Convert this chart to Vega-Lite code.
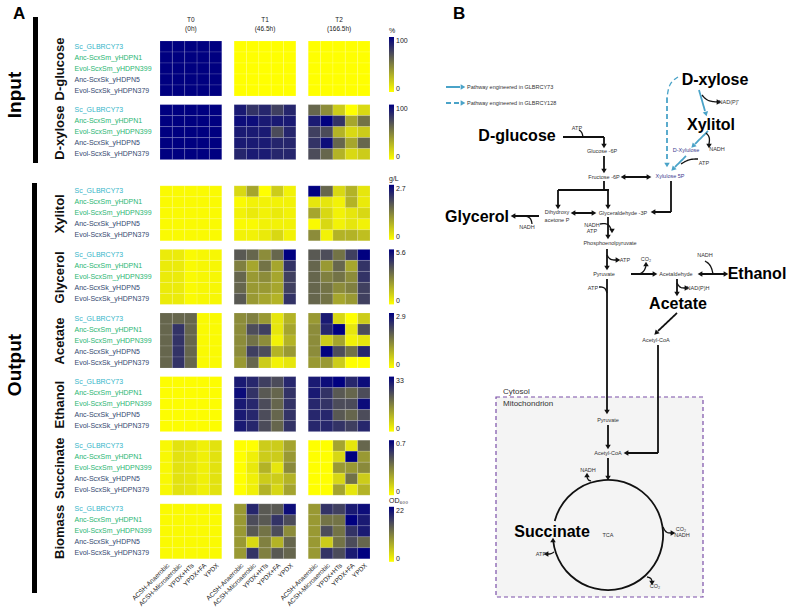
{
"$schema":"https://vega.github.io/schema/vega-lite/v6.json",
"padding":{"left":5,"top":5,"right":0,"bottom":0},
"config":{"font":"Liberation Sans","view":{"stroke":null},
"axisY":{"labelAlign":"left","labelPadding":86,"labelFontSize":7,"ticks":false,"tickSize":0,"domain":false,"titleFontSize":13,"titleFontWeight":"bold","titlePadding":8,"titleColor":"#111"},
"legend":{"gradientLength":55,"gradientThickness":5,"labelFontSize":7,"titleFontSize":7,"titleFontWeight":"normal","titlePadding":3,"labelOffset":2,"labelColor":"#222","titleColor":"#222"}},
"datasets":{
"strains":[{"s":0,"strain":"Sc_GLBRCY73"},{"s":1,"strain":"Anc-ScxSm_yHDPN1"},{"s":2,"strain":"Evol-ScxSm_yHDPN399"},{"s":3,"strain":"Anc-ScxSk_yHDPN5"},{"s":4,"strain":"Evol-ScxSk_yHDPN379"}],
"conds":[{"c":0,"cond":"ACSH-Anaerobic"},{"c":1,"cond":"ACSH-Microaerobic"},{"c":2,"cond":"YPDX+HTs"},{"c":3,"cond":"YPDX+FA"},{"c":4,"cond":"YPDX"}],
"hdr":[{"col":"T0|YPDX+HTs","t":"T0","h":"(0h)"},{"col":"T1|YPDX+HTs","t":"T1","h":"(46.5h)"},{"col":"T2|YPDX+HTs","t":"T2","h":"(166.5h)"}],
"glucose":[
{"t":"T0","s":0,"c":0,"v":100},{"t":"T0","s":0,"c":1,"v":100},{"t":"T0","s":0,"c":2,"v":100},{"t":"T0","s":0,"c":3,"v":100},{"t":"T0","s":0,"c":4,"v":100},
{"t":"T0","s":1,"c":0,"v":100},{"t":"T0","s":1,"c":1,"v":100},{"t":"T0","s":1,"c":2,"v":100},{"t":"T0","s":1,"c":3,"v":100},{"t":"T0","s":1,"c":4,"v":100},
{"t":"T0","s":2,"c":0,"v":100},{"t":"T0","s":2,"c":1,"v":100},{"t":"T0","s":2,"c":2,"v":100},{"t":"T0","s":2,"c":3,"v":100},{"t":"T0","s":2,"c":4,"v":100},
{"t":"T0","s":3,"c":0,"v":100},{"t":"T0","s":3,"c":1,"v":100},{"t":"T0","s":3,"c":2,"v":100},{"t":"T0","s":3,"c":3,"v":100},{"t":"T0","s":3,"c":4,"v":100},
{"t":"T0","s":4,"c":0,"v":100},{"t":"T0","s":4,"c":1,"v":100},{"t":"T0","s":4,"c":2,"v":100},{"t":"T0","s":4,"c":3,"v":100},{"t":"T0","s":4,"c":4,"v":100},
{"t":"T1","s":0,"c":0,"v":0},{"t":"T1","s":0,"c":1,"v":0},{"t":"T1","s":0,"c":2,"v":0},{"t":"T1","s":0,"c":3,"v":0},{"t":"T1","s":0,"c":4,"v":0},
{"t":"T1","s":1,"c":0,"v":0},{"t":"T1","s":1,"c":1,"v":0},{"t":"T1","s":1,"c":2,"v":0},{"t":"T1","s":1,"c":3,"v":0},{"t":"T1","s":1,"c":4,"v":0},
{"t":"T1","s":2,"c":0,"v":0},{"t":"T1","s":2,"c":1,"v":0},{"t":"T1","s":2,"c":2,"v":0},{"t":"T1","s":2,"c":3,"v":0},{"t":"T1","s":2,"c":4,"v":0},
{"t":"T1","s":3,"c":0,"v":0},{"t":"T1","s":3,"c":1,"v":0},{"t":"T1","s":3,"c":2,"v":0},{"t":"T1","s":3,"c":3,"v":0},{"t":"T1","s":3,"c":4,"v":0},
{"t":"T1","s":4,"c":0,"v":0},{"t":"T1","s":4,"c":1,"v":0},{"t":"T1","s":4,"c":2,"v":0},{"t":"T1","s":4,"c":3,"v":0},{"t":"T1","s":4,"c":4,"v":0},
{"t":"T2","s":0,"c":0,"v":0},{"t":"T2","s":0,"c":1,"v":0},{"t":"T2","s":0,"c":2,"v":0},{"t":"T2","s":0,"c":3,"v":0},{"t":"T2","s":0,"c":4,"v":0},
{"t":"T2","s":1,"c":0,"v":0},{"t":"T2","s":1,"c":1,"v":0},{"t":"T2","s":1,"c":2,"v":0},{"t":"T2","s":1,"c":3,"v":0},{"t":"T2","s":1,"c":4,"v":0},
{"t":"T2","s":2,"c":0,"v":0},{"t":"T2","s":2,"c":1,"v":0},{"t":"T2","s":2,"c":2,"v":0},{"t":"T2","s":2,"c":3,"v":0},{"t":"T2","s":2,"c":4,"v":0},
{"t":"T2","s":3,"c":0,"v":0},{"t":"T2","s":3,"c":1,"v":0},{"t":"T2","s":3,"c":2,"v":0},{"t":"T2","s":3,"c":3,"v":0},{"t":"T2","s":3,"c":4,"v":0},
{"t":"T2","s":4,"c":0,"v":0},{"t":"T2","s":4,"c":1,"v":0},{"t":"T2","s":4,"c":2,"v":0},{"t":"T2","s":4,"c":3,"v":0},{"t":"T2","s":4,"c":4,"v":0}],
"xylose":[
{"t":"T0","s":0,"c":0,"v":100},{"t":"T0","s":0,"c":1,"v":100},{"t":"T0","s":0,"c":2,"v":100},{"t":"T0","s":0,"c":3,"v":100},{"t":"T0","s":0,"c":4,"v":100},
{"t":"T0","s":1,"c":0,"v":100},{"t":"T0","s":1,"c":1,"v":100},{"t":"T0","s":1,"c":2,"v":100},{"t":"T0","s":1,"c":3,"v":100},{"t":"T0","s":1,"c":4,"v":100},
{"t":"T0","s":2,"c":0,"v":100},{"t":"T0","s":2,"c":1,"v":100},{"t":"T0","s":2,"c":2,"v":100},{"t":"T0","s":2,"c":3,"v":100},{"t":"T0","s":2,"c":4,"v":100},
{"t":"T0","s":3,"c":0,"v":100},{"t":"T0","s":3,"c":1,"v":100},{"t":"T0","s":3,"c":2,"v":100},{"t":"T0","s":3,"c":3,"v":100},{"t":"T0","s":3,"c":4,"v":100},
{"t":"T0","s":4,"c":0,"v":100},{"t":"T0","s":4,"c":1,"v":100},{"t":"T0","s":4,"c":2,"v":100},{"t":"T0","s":4,"c":3,"v":100},{"t":"T0","s":4,"c":4,"v":100},
{"t":"T1","s":0,"c":0,"v":90},{"t":"T1","s":0,"c":1,"v":80},{"t":"T1","s":0,"c":2,"v":85},{"t":"T1","s":0,"c":3,"v":75},{"t":"T1","s":0,"c":4,"v":85},
{"t":"T1","s":1,"c":0,"v":95},{"t":"T1","s":1,"c":1,"v":95},{"t":"T1","s":1,"c":2,"v":90},{"t":"T1","s":1,"c":3,"v":90},{"t":"T1","s":1,"c":4,"v":90},
{"t":"T1","s":2,"c":0,"v":90},{"t":"T1","s":2,"c":1,"v":90},{"t":"T1","s":2,"c":2,"v":90},{"t":"T1","s":2,"c":3,"v":70},{"t":"T1","s":2,"c":4,"v":85},
{"t":"T1","s":3,"c":0,"v":90},{"t":"T1","s":3,"c":1,"v":90},{"t":"T1","s":3,"c":2,"v":90},{"t":"T1","s":3,"c":3,"v":85},{"t":"T1","s":3,"c":4,"v":85},
{"t":"T1","s":4,"c":0,"v":85},{"t":"T1","s":4,"c":1,"v":90},{"t":"T1","s":4,"c":2,"v":90},{"t":"T1","s":4,"c":3,"v":85},{"t":"T1","s":4,"c":4,"v":85},
{"t":"T2","s":0,"c":0,"v":60},{"t":"T2","s":0,"c":1,"v":45},{"t":"T2","s":0,"c":2,"v":20},{"t":"T2","s":0,"c":3,"v":0},{"t":"T2","s":0,"c":4,"v":15},
{"t":"T2","s":1,"c":0,"v":90},{"t":"T2","s":1,"c":1,"v":100},{"t":"T2","s":1,"c":2,"v":80},{"t":"T2","s":1,"c":3,"v":35},{"t":"T2","s":1,"c":4,"v":55},
{"t":"T2","s":2,"c":0,"v":75},{"t":"T2","s":2,"c":1,"v":70},{"t":"T2","s":2,"c":2,"v":30},{"t":"T2","s":2,"c":3,"v":15},{"t":"T2","s":2,"c":4,"v":20},
{"t":"T2","s":3,"c":0,"v":80},{"t":"T2","s":3,"c":1,"v":95},{"t":"T2","s":3,"c":2,"v":60},{"t":"T2","s":3,"c":3,"v":35},{"t":"T2","s":3,"c":4,"v":60},
{"t":"T2","s":4,"c":0,"v":70},{"t":"T2","s":4,"c":1,"v":60},{"t":"T2","s":4,"c":2,"v":30},{"t":"T2","s":4,"c":3,"v":15},{"t":"T2","s":4,"c":4,"v":20}],
"xylitol":[
{"t":"T0","s":0,"c":0,"v":0.05},{"t":"T0","s":0,"c":1,"v":0.05},{"t":"T0","s":0,"c":2,"v":0.05},{"t":"T0","s":0,"c":3,"v":0.05},{"t":"T0","s":0,"c":4,"v":0.05},
{"t":"T0","s":1,"c":0,"v":0.05},{"t":"T0","s":1,"c":1,"v":0.05},{"t":"T0","s":1,"c":2,"v":0.05},{"t":"T0","s":1,"c":3,"v":0.05},{"t":"T0","s":1,"c":4,"v":0.05},
{"t":"T0","s":2,"c":0,"v":0.05},{"t":"T0","s":2,"c":1,"v":0.05},{"t":"T0","s":2,"c":2,"v":0.05},{"t":"T0","s":2,"c":3,"v":0.05},{"t":"T0","s":2,"c":4,"v":0.05},
{"t":"T0","s":3,"c":0,"v":0.05},{"t":"T0","s":3,"c":1,"v":0.05},{"t":"T0","s":3,"c":2,"v":0.05},{"t":"T0","s":3,"c":3,"v":0.05},{"t":"T0","s":3,"c":4,"v":0.05},
{"t":"T0","s":4,"c":0,"v":0.05},{"t":"T0","s":4,"c":1,"v":0.05},{"t":"T0","s":4,"c":2,"v":0.05},{"t":"T0","s":4,"c":3,"v":0.05},{"t":"T0","s":4,"c":4,"v":0.05},
{"t":"T1","s":0,"c":0,"v":0.41},{"t":"T1","s":0,"c":1,"v":0.95},{"t":"T1","s":0,"c":2,"v":0},{"t":"T1","s":0,"c":3,"v":0.54},{"t":"T1","s":0,"c":4,"v":0.14},
{"t":"T1","s":1,"c":0,"v":0.05},{"t":"T1","s":1,"c":1,"v":0.14},{"t":"T1","s":1,"c":2,"v":0.14},{"t":"T1","s":1,"c":3,"v":0.14},{"t":"T1","s":1,"c":4,"v":0.14},
{"t":"T1","s":2,"c":0,"v":0.14},{"t":"T1","s":2,"c":1,"v":0.22},{"t":"T1","s":2,"c":2,"v":0.14},{"t":"T1","s":2,"c":3,"v":0.22},{"t":"T1","s":2,"c":4,"v":0.14},
{"t":"T1","s":3,"c":0,"v":0.05},{"t":"T1","s":3,"c":1,"v":0.05},{"t":"T1","s":3,"c":2,"v":0.14},{"t":"T1","s":3,"c":3,"v":0.14},{"t":"T1","s":3,"c":4,"v":0.14},
{"t":"T1","s":4,"c":0,"v":0.14},{"t":"T1","s":4,"c":1,"v":0.14},{"t":"T1","s":4,"c":2,"v":0.22},{"t":"T1","s":4,"c":3,"v":0.41},{"t":"T1","s":4,"c":4,"v":0.14},
{"t":"T2","s":0,"c":0,"v":2.7},{"t":"T2","s":0,"c":1,"v":1.62},{"t":"T2","s":0,"c":2,"v":0.41},{"t":"T2","s":0,"c":3,"v":0.81},{"t":"T2","s":0,"c":4,"v":0.27},
{"t":"T2","s":1,"c":0,"v":0.27},{"t":"T2","s":1,"c":1,"v":0.27},{"t":"T2","s":1,"c":2,"v":0.14},{"t":"T2","s":1,"c":3,"v":0.81},{"t":"T2","s":1,"c":4,"v":0.22},
{"t":"T2","s":2,"c":0,"v":0.95},{"t":"T2","s":2,"c":1,"v":0.41},{"t":"T2","s":2,"c":2,"v":0.14},{"t":"T2","s":2,"c":3,"v":0.27},{"t":"T2","s":2,"c":4,"v":0.41},
{"t":"T2","s":3,"c":0,"v":0.05},{"t":"T2","s":3,"c":1,"v":0.41},{"t":"T2","s":3,"c":2,"v":0.14},{"t":"T2","s":3,"c":3,"v":0.27},{"t":"T2","s":3,"c":4,"v":0.14},
{"t":"T2","s":4,"c":0,"v":1.22},{"t":"T2","s":4,"c":1,"v":0.14},{"t":"T2","s":4,"c":2,"v":0.81},{"t":"T2","s":4,"c":3,"v":0.81},{"t":"T2","s":4,"c":4,"v":0.68}],
"glycerol":[
{"t":"T0","s":0,"c":0,"v":0.45},{"t":"T0","s":0,"c":1,"v":0.45},{"t":"T0","s":0,"c":2,"v":0.11},{"t":"T0","s":0,"c":3,"v":0.17},{"t":"T0","s":0,"c":4,"v":0.17},
{"t":"T0","s":1,"c":0,"v":0.45},{"t":"T0","s":1,"c":1,"v":0.45},{"t":"T0","s":1,"c":2,"v":0.11},{"t":"T0","s":1,"c":3,"v":0.17},{"t":"T0","s":1,"c":4,"v":0.17},
{"t":"T0","s":2,"c":0,"v":0.45},{"t":"T0","s":2,"c":1,"v":0.45},{"t":"T0","s":2,"c":2,"v":0.11},{"t":"T0","s":2,"c":3,"v":0.17},{"t":"T0","s":2,"c":4,"v":0.17},
{"t":"T0","s":3,"c":0,"v":0.45},{"t":"T0","s":3,"c":1,"v":0.45},{"t":"T0","s":3,"c":2,"v":0.11},{"t":"T0","s":3,"c":3,"v":0.17},{"t":"T0","s":3,"c":4,"v":0.17},
{"t":"T0","s":4,"c":0,"v":0.45},{"t":"T0","s":4,"c":1,"v":0.45},{"t":"T0","s":4,"c":2,"v":0.11},{"t":"T0","s":4,"c":3,"v":0.17},{"t":"T0","s":4,"c":4,"v":0.17},
{"t":"T1","s":0,"c":0,"v":3.64},{"t":"T1","s":0,"c":1,"v":3.36},{"t":"T1","s":0,"c":2,"v":2.52},{"t":"T1","s":0,"c":3,"v":3.36},{"t":"T1","s":0,"c":4,"v":5.6},
{"t":"T1","s":1,"c":0,"v":2.8},{"t":"T1","s":1,"c":1,"v":1.96},{"t":"T1","s":1,"c":2,"v":3.08},{"t":"T1","s":1,"c":3,"v":1.96},{"t":"T1","s":1,"c":4,"v":4.48},
{"t":"T1","s":2,"c":0,"v":3.36},{"t":"T1","s":2,"c":1,"v":2.24},{"t":"T1","s":2,"c":2,"v":2.52},{"t":"T1","s":2,"c":3,"v":1.96},{"t":"T1","s":2,"c":4,"v":4.2},
{"t":"T1","s":3,"c":0,"v":3.36},{"t":"T1","s":3,"c":1,"v":2.24},{"t":"T1","s":3,"c":2,"v":2.24},{"t":"T1","s":3,"c":3,"v":1.96},{"t":"T1","s":3,"c":4,"v":4.2},
{"t":"T1","s":4,"c":0,"v":3.64},{"t":"T1","s":4,"c":1,"v":2.24},{"t":"T1","s":4,"c":2,"v":1.96},{"t":"T1","s":4,"c":3,"v":1.68},{"t":"T1","s":4,"c":4,"v":4.48},
{"t":"T2","s":0,"c":0,"v":3.64},{"t":"T2","s":0,"c":1,"v":3.92},{"t":"T2","s":0,"c":2,"v":3.08},{"t":"T2","s":0,"c":3,"v":4.2},{"t":"T2","s":0,"c":4,"v":5.6},
{"t":"T2","s":1,"c":0,"v":3.36},{"t":"T2","s":1,"c":1,"v":2.24},{"t":"T2","s":1,"c":2,"v":3.36},{"t":"T2","s":1,"c":3,"v":1.96},{"t":"T2","s":1,"c":4,"v":4.48},
{"t":"T2","s":2,"c":0,"v":3.36},{"t":"T2","s":2,"c":1,"v":2.8},{"t":"T2","s":2,"c":2,"v":3.08},{"t":"T2","s":2,"c":3,"v":2.52},{"t":"T2","s":2,"c":4,"v":4.48},
{"t":"T2","s":3,"c":0,"v":3.36},{"t":"T2","s":3,"c":1,"v":3.08},{"t":"T2","s":3,"c":2,"v":2.52},{"t":"T2","s":3,"c":3,"v":2.8},{"t":"T2","s":3,"c":4,"v":4.2},
{"t":"T2","s":4,"c":0,"v":3.36},{"t":"T2","s":4,"c":1,"v":3.08},{"t":"T2","s":4,"c":2,"v":1.96},{"t":"T2","s":4,"c":3,"v":2.24},{"t":"T2","s":4,"c":4,"v":4.2}],
"acetate":[
{"t":"T0","s":0,"c":0,"v":1.74},{"t":"T0","s":0,"c":1,"v":1.74},{"t":"T0","s":0,"c":2,"v":1.74},{"t":"T0","s":0,"c":3,"v":0.06},{"t":"T0","s":0,"c":4,"v":0.06},
{"t":"T0","s":1,"c":0,"v":1.74},{"t":"T0","s":1,"c":1,"v":2.32},{"t":"T0","s":1,"c":2,"v":1.74},{"t":"T0","s":1,"c":3,"v":0.06},{"t":"T0","s":1,"c":4,"v":0.06},
{"t":"T0","s":2,"c":0,"v":1.74},{"t":"T0","s":2,"c":1,"v":2.32},{"t":"T0","s":2,"c":2,"v":1.74},{"t":"T0","s":2,"c":3,"v":0.06},{"t":"T0","s":2,"c":4,"v":0.06},
{"t":"T0","s":3,"c":0,"v":1.74},{"t":"T0","s":3,"c":1,"v":2.32},{"t":"T0","s":3,"c":2,"v":1.74},{"t":"T0","s":3,"c":3,"v":0.06},{"t":"T0","s":3,"c":4,"v":0.06},
{"t":"T0","s":4,"c":0,"v":1.74},{"t":"T0","s":4,"c":1,"v":2.32},{"t":"T0","s":4,"c":2,"v":1.74},{"t":"T0","s":4,"c":3,"v":0.06},{"t":"T0","s":4,"c":4,"v":0.06},
{"t":"T1","s":0,"c":0,"v":1.31},{"t":"T1","s":0,"c":1,"v":1.45},{"t":"T1","s":0,"c":2,"v":1.16},{"t":"T1","s":0,"c":3,"v":0.29},{"t":"T1","s":0,"c":4,"v":0.87},
{"t":"T1","s":1,"c":0,"v":1.31},{"t":"T1","s":1,"c":1,"v":2.03},{"t":"T1","s":1,"c":2,"v":2.18},{"t":"T1","s":1,"c":3,"v":0.29},{"t":"T1","s":1,"c":4,"v":1.02},
{"t":"T1","s":2,"c":0,"v":1.31},{"t":"T1","s":2,"c":1,"v":1.6},{"t":"T1","s":2,"c":2,"v":1.31},{"t":"T1","s":2,"c":3,"v":0.15},{"t":"T1","s":2,"c":4,"v":0.87},
{"t":"T1","s":3,"c":0,"v":1.31},{"t":"T1","s":3,"c":1,"v":2.18},{"t":"T1","s":3,"c":2,"v":2.03},{"t":"T1","s":3,"c":3,"v":0.87},{"t":"T1","s":3,"c":4,"v":1.16},
{"t":"T1","s":4,"c":0,"v":1.16},{"t":"T1","s":4,"c":1,"v":1.74},{"t":"T1","s":4,"c":2,"v":0.58},{"t":"T1","s":4,"c":3,"v":0.15},{"t":"T1","s":4,"c":4,"v":0.29},
{"t":"T2","s":0,"c":0,"v":1.16},{"t":"T2","s":0,"c":1,"v":2.61},{"t":"T2","s":0,"c":2,"v":0.44},{"t":"T2","s":0,"c":3,"v":0},{"t":"T2","s":0,"c":4,"v":0.58},
{"t":"T2","s":1,"c":0,"v":1.31},{"t":"T2","s":1,"c":1,"v":2.47},{"t":"T2","s":1,"c":2,"v":2.9},{"t":"T2","s":1,"c":3,"v":0.29},{"t":"T2","s":1,"c":4,"v":2.03},
{"t":"T2","s":2,"c":0,"v":1.31},{"t":"T2","s":2,"c":1,"v":0.58},{"t":"T2","s":2,"c":2,"v":1.02},{"t":"T2","s":2,"c":3,"v":0.15},{"t":"T2","s":2,"c":4,"v":0.29},
{"t":"T2","s":3,"c":0,"v":1.31},{"t":"T2","s":3,"c":1,"v":2.9},{"t":"T2","s":3,"c":2,"v":2.03},{"t":"T2","s":3,"c":3,"v":1.6},{"t":"T2","s":3,"c":4,"v":2.47},
{"t":"T2","s":4,"c":0,"v":1.16},{"t":"T2","s":4,"c":1,"v":1.16},{"t":"T2","s":4,"c":2,"v":0.58},{"t":"T2","s":4,"c":3,"v":0},{"t":"T2","s":4,"c":4,"v":0}],
"ethanol":[
{"t":"T0","s":0,"c":0,"v":0.3},{"t":"T0","s":0,"c":1,"v":0.3},{"t":"T0","s":0,"c":2,"v":0.3},{"t":"T0","s":0,"c":3,"v":0.3},{"t":"T0","s":0,"c":4,"v":0.3},
{"t":"T0","s":1,"c":0,"v":0.3},{"t":"T0","s":1,"c":1,"v":0.3},{"t":"T0","s":1,"c":2,"v":0.3},{"t":"T0","s":1,"c":3,"v":0.3},{"t":"T0","s":1,"c":4,"v":0.3},
{"t":"T0","s":2,"c":0,"v":0.3},{"t":"T0","s":2,"c":1,"v":0.3},{"t":"T0","s":2,"c":2,"v":0.3},{"t":"T0","s":2,"c":3,"v":0.3},{"t":"T0","s":2,"c":4,"v":0.3},
{"t":"T0","s":3,"c":0,"v":0.3},{"t":"T0","s":3,"c":1,"v":0.3},{"t":"T0","s":3,"c":2,"v":0.3},{"t":"T0","s":3,"c":3,"v":0.3},{"t":"T0","s":3,"c":4,"v":0.3},
{"t":"T0","s":4,"c":0,"v":0.3},{"t":"T0","s":4,"c":1,"v":0.3},{"t":"T0","s":4,"c":2,"v":0.3},{"t":"T0","s":4,"c":3,"v":0.3},{"t":"T0","s":4,"c":4,"v":0.3},
{"t":"T1","s":0,"c":0,"v":29.7},{"t":"T1","s":0,"c":1,"v":28},{"t":"T1","s":0,"c":2,"v":24.8},{"t":"T1","s":0,"c":3,"v":23.1},{"t":"T1","s":0,"c":4,"v":28},
{"t":"T1","s":1,"c":0,"v":31.4},{"t":"T1","s":1,"c":1,"v":26.4},{"t":"T1","s":1,"c":2,"v":21.5},{"t":"T1","s":1,"c":3,"v":19.8},{"t":"T1","s":1,"c":4,"v":26.4},
{"t":"T1","s":2,"c":0,"v":29.7},{"t":"T1","s":2,"c":1,"v":28},{"t":"T1","s":2,"c":2,"v":23.1},{"t":"T1","s":2,"c":3,"v":19.8},{"t":"T1","s":2,"c":4,"v":26.4},
{"t":"T1","s":3,"c":0,"v":29.7},{"t":"T1","s":3,"c":1,"v":28},{"t":"T1","s":3,"c":2,"v":23.1},{"t":"T1","s":3,"c":3,"v":19.8},{"t":"T1","s":3,"c":4,"v":26.4},
{"t":"T1","s":4,"c":0,"v":29.7},{"t":"T1","s":4,"c":1,"v":28},{"t":"T1","s":4,"c":2,"v":23.1},{"t":"T1","s":4,"c":3,"v":19.8},{"t":"T1","s":4,"c":4,"v":26.4},
{"t":"T2","s":0,"c":0,"v":29.7},{"t":"T2","s":0,"c":1,"v":31.4},{"t":"T2","s":0,"c":2,"v":33},{"t":"T2","s":0,"c":3,"v":28},{"t":"T2","s":0,"c":4,"v":31.4},
{"t":"T2","s":1,"c":0,"v":29.7},{"t":"T2","s":1,"c":1,"v":26.4},{"t":"T2","s":1,"c":2,"v":21.5},{"t":"T2","s":1,"c":3,"v":19.8},{"t":"T2","s":1,"c":4,"v":23.1},
{"t":"T2","s":2,"c":0,"v":28},{"t":"T2","s":2,"c":1,"v":26.4},{"t":"T2","s":2,"c":2,"v":23.1},{"t":"T2","s":2,"c":3,"v":23.1},{"t":"T2","s":2,"c":4,"v":31.4},
{"t":"T2","s":3,"c":0,"v":28},{"t":"T2","s":3,"c":1,"v":28},{"t":"T2","s":3,"c":2,"v":21.5},{"t":"T2","s":3,"c":3,"v":19.8},{"t":"T2","s":3,"c":4,"v":23.1},
{"t":"T2","s":4,"c":0,"v":28},{"t":"T2","s":4,"c":1,"v":28},{"t":"T2","s":4,"c":2,"v":26.4},{"t":"T2","s":4,"c":3,"v":24.8},{"t":"T2","s":4,"c":4,"v":28}],
"succinate":[
{"t":"T0","s":0,"c":0,"v":0.02},{"t":"T0","s":0,"c":1,"v":0.08},{"t":"T0","s":0,"c":2,"v":0.07},{"t":"T0","s":0,"c":3,"v":0.04},{"t":"T0","s":0,"c":4,"v":0.08},
{"t":"T0","s":1,"c":0,"v":0.02},{"t":"T0","s":1,"c":1,"v":0.08},{"t":"T0","s":1,"c":2,"v":0.07},{"t":"T0","s":1,"c":3,"v":0.04},{"t":"T0","s":1,"c":4,"v":0.08},
{"t":"T0","s":2,"c":0,"v":0.02},{"t":"T0","s":2,"c":1,"v":0.08},{"t":"T0","s":2,"c":2,"v":0.07},{"t":"T0","s":2,"c":3,"v":0.04},{"t":"T0","s":2,"c":4,"v":0.08},
{"t":"T0","s":3,"c":0,"v":0.02},{"t":"T0","s":3,"c":1,"v":0.08},{"t":"T0","s":3,"c":2,"v":0.07},{"t":"T0","s":3,"c":3,"v":0.04},{"t":"T0","s":3,"c":4,"v":0.08},
{"t":"T0","s":4,"c":0,"v":0.02},{"t":"T0","s":4,"c":1,"v":0.08},{"t":"T0","s":4,"c":2,"v":0.07},{"t":"T0","s":4,"c":3,"v":0.04},{"t":"T0","s":4,"c":4,"v":0.08},
{"t":"T1","s":0,"c":0,"v":0},{"t":"T1","s":0,"c":1,"v":0},{"t":"T1","s":0,"c":2,"v":0.14},{"t":"T1","s":0,"c":3,"v":0.14},{"t":"T1","s":0,"c":4,"v":0.25},
{"t":"T1","s":1,"c":0,"v":0},{"t":"T1","s":1,"c":1,"v":0.04},{"t":"T1","s":1,"c":2,"v":0.14},{"t":"T1","s":1,"c":3,"v":0.14},{"t":"T1","s":1,"c":4,"v":0.28},
{"t":"T1","s":2,"c":0,"v":0},{"t":"T1","s":2,"c":1,"v":0.06},{"t":"T1","s":2,"c":2,"v":0.21},{"t":"T1","s":2,"c":3,"v":0.07},{"t":"T1","s":2,"c":4,"v":0.32},
{"t":"T1","s":3,"c":0,"v":0},{"t":"T1","s":3,"c":1,"v":0.04},{"t":"T1","s":3,"c":2,"v":0.14},{"t":"T1","s":3,"c":3,"v":0.14},{"t":"T1","s":3,"c":4,"v":0.21},
{"t":"T1","s":4,"c":0,"v":0},{"t":"T1","s":4,"c":1,"v":0.04},{"t":"T1","s":4,"c":2,"v":0.21},{"t":"T1","s":4,"c":3,"v":0.11},{"t":"T1","s":4,"c":4,"v":0.25},
{"t":"T2","s":0,"c":0,"v":0},{"t":"T2","s":0,"c":1,"v":0},{"t":"T2","s":0,"c":2,"v":0.25},{"t":"T2","s":0,"c":3,"v":0.07},{"t":"T2","s":0,"c":4,"v":0.42},
{"t":"T2","s":1,"c":0,"v":0},{"t":"T2","s":1,"c":1,"v":0},{"t":"T2","s":1,"c":2,"v":0.11},{"t":"T2","s":1,"c":3,"v":0.7},{"t":"T2","s":1,"c":4,"v":0.28},
{"t":"T2","s":2,"c":0,"v":0},{"t":"T2","s":2,"c":1,"v":0},{"t":"T2","s":2,"c":2,"v":0.28},{"t":"T2","s":2,"c":3,"v":0.28},{"t":"T2","s":2,"c":4,"v":0.32},
{"t":"T2","s":3,"c":0,"v":0},{"t":"T2","s":3,"c":1,"v":0},{"t":"T2","s":3,"c":2,"v":0.11},{"t":"T2","s":3,"c":3,"v":0.39},{"t":"T2","s":3,"c":4,"v":0.14},
{"t":"T2","s":4,"c":0,"v":0},{"t":"T2","s":4,"c":1,"v":0},{"t":"T2","s":4,"c":2,"v":0.25},{"t":"T2","s":4,"c":3,"v":0.07},{"t":"T2","s":4,"c":4,"v":0.21}],
"biomass":[
{"t":"T0","s":0,"c":0,"v":0.4},{"t":"T0","s":0,"c":1,"v":0.4},{"t":"T0","s":0,"c":2,"v":0.4},{"t":"T0","s":0,"c":3,"v":0.4},{"t":"T0","s":0,"c":4,"v":0.4},
{"t":"T0","s":1,"c":0,"v":0.4},{"t":"T0","s":1,"c":1,"v":0.4},{"t":"T0","s":1,"c":2,"v":0.4},{"t":"T0","s":1,"c":3,"v":0.4},{"t":"T0","s":1,"c":4,"v":0.4},
{"t":"T0","s":2,"c":0,"v":0.4},{"t":"T0","s":2,"c":1,"v":0.4},{"t":"T0","s":2,"c":2,"v":0.4},{"t":"T0","s":2,"c":3,"v":0.4},{"t":"T0","s":2,"c":4,"v":0.4},
{"t":"T0","s":3,"c":0,"v":0.4},{"t":"T0","s":3,"c":1,"v":0.4},{"t":"T0","s":3,"c":2,"v":0.4},{"t":"T0","s":3,"c":3,"v":0.4},{"t":"T0","s":3,"c":4,"v":0.4},
{"t":"T0","s":4,"c":0,"v":0.4},{"t":"T0","s":4,"c":1,"v":0.4},{"t":"T0","s":4,"c":2,"v":0.4},{"t":"T0","s":4,"c":3,"v":0.4},{"t":"T0","s":4,"c":4,"v":0.4},
{"t":"T1","s":0,"c":0,"v":8.8},{"t":"T1","s":0,"c":1,"v":18.7},{"t":"T1","s":0,"c":2,"v":14.3},{"t":"T1","s":0,"c":3,"v":14.3},{"t":"T1","s":0,"c":4,"v":20.9},
{"t":"T1","s":1,"c":0,"v":8.8},{"t":"T1","s":1,"c":1,"v":15.4},{"t":"T1","s":1,"c":2,"v":14.3},{"t":"T1","s":1,"c":3,"v":17.6},{"t":"T1","s":1,"c":4,"v":15.4},
{"t":"T1","s":2,"c":0,"v":8.8},{"t":"T1","s":2,"c":1,"v":14.3},{"t":"T1","s":2,"c":2,"v":12.1},{"t":"T1","s":2,"c":3,"v":15.4},{"t":"T1","s":2,"c":4,"v":9.9},
{"t":"T1","s":3,"c":0,"v":8.8},{"t":"T1","s":3,"c":1,"v":3.3},{"t":"T1","s":3,"c":2,"v":11},{"t":"T1","s":3,"c":3,"v":6.6},{"t":"T1","s":3,"c":4,"v":13.2},
{"t":"T1","s":4,"c":0,"v":8.8},{"t":"T1","s":4,"c":1,"v":17.6},{"t":"T1","s":4,"c":2,"v":11},{"t":"T1","s":4,"c":3,"v":14.3},{"t":"T1","s":4,"c":4,"v":13.2},
{"t":"T2","s":0,"c":0,"v":8.8},{"t":"T2","s":0,"c":1,"v":17.6},{"t":"T2","s":0,"c":2,"v":16.5},{"t":"T2","s":0,"c":3,"v":19.8},{"t":"T2","s":0,"c":4,"v":20.9},
{"t":"T2","s":1,"c":0,"v":8.8},{"t":"T2","s":1,"c":1,"v":12.1},{"t":"T2","s":1,"c":2,"v":12.1},{"t":"T2","s":1,"c":3,"v":22},{"t":"T2","s":1,"c":4,"v":19.8},
{"t":"T2","s":2,"c":0,"v":8.8},{"t":"T2","s":2,"c":1,"v":15.4},{"t":"T2","s":2,"c":2,"v":12.1},{"t":"T2","s":2,"c":3,"v":17.6},{"t":"T2","s":2,"c":4,"v":19.8},
{"t":"T2","s":3,"c":0,"v":8.8},{"t":"T2","s":3,"c":1,"v":4.4},{"t":"T2","s":3,"c":2,"v":12.1},{"t":"T2","s":3,"c":3,"v":15.4},{"t":"T2","s":3,"c":4,"v":13.2},
{"t":"T2","s":4,"c":0,"v":8.8},{"t":"T2","s":4,"c":1,"v":17.6},{"t":"T2","s":4,"c":2,"v":15.4},{"t":"T2","s":4,"c":3,"v":19.8},{"t":"T2","s":4,"c":4,"v":22}],
"lText":[{"x":11,"y":92,"label":"Input"},{"x":11,"y":362,"label":"Output"}],
"lBar":[{"x":31.5,"y":14,"y2":160},{"x":30.5,"y":180,"y2":590}],
"lLetter":[{"x":9,"y":3,"label":"A"}],
"bText":[
{"x":714,"y":77,"label":"D-xylose","role":"big"},{"x":710,"y":122,"label":"Xylitol","role":"big"},{"x":516,"y":133,"label":"D-glucose","role":"big"},{"x":476,"y":214,"label":"Glycerol","role":"big"},{"x":756,"y":271,"label":"Ethanol","role":"big"},{"x":677,"y":301,"label":"Acetate","role":"big"},{"x":551,"y":529,"label":"Succinate","role":"big"},
{"x":576,"y":125,"label":"ATP","role":"small"},{"x":601,"y":148,"label":"Glucose -6P","role":"small"},{"x":603,"y":174,"label":"Fructose -6P","role":"small"},{"x":728,"y":99,"label":"NAD(P)⁺","role":"small"},{"x":716,"y":146,"label":"NADH","role":"small"},{"x":703,"y":160,"label":"ATP","role":"small"},
{"x":556,"y":209,"label":"Dihydroxy","role":"small"},{"x":556,"y":217,"label":"acetone P","role":"small"},{"x":622,"y":210,"label":"Glyceraldehyde -3P","role":"small"},{"x":526,"y":224,"label":"NADH","role":"small"},{"x":591,"y":222,"label":"NADH","role":"small"},{"x":591,"y":228,"label":"ATP","role":"small"},
{"x":609,"y":240,"label":"Phosphoenolpyruvate","role":"small"},{"x":624,"y":257,"label":"ATP","role":"small"},{"x":603,"y":271,"label":"Pyruvate","role":"small"},{"x":645,"y":256,"label":"CO₂","role":"small"},{"x":675,"y":271,"label":"Acetaldehyde","role":"small"},{"x":704,"y":252,"label":"NADH","role":"small"},{"x":697,"y":285,"label":"NAD(P)H","role":"small"},{"x":592,"y":285,"label":"ATP","role":"small"},
{"x":655,"y":337,"label":"Acetyl-CoA","role":"small"},{"x":607,"y":417,"label":"Pyruvate","role":"small"},{"x":607,"y":450,"label":"Acetyl-CoA","role":"small"},{"x":607,"y":532,"label":"TCA","role":"small"},{"x":587,"y":467,"label":"NADH","role":"small"},{"x":680,"y":526,"label":"CO₂","role":"small"},{"x":681,"y":532,"label":"NADH","role":"small"},{"x":654,"y":583,"label":"CO₂","role":"small"},{"x":540,"y":551,"label":"ATP","role":"small"},
{"x":685,"y":147,"label":"D-Xylulose","role":"blue"},{"x":669,"y":173,"label":"Xylulose 5P","role":"blue"},
{"x":466,"y":84,"label":"Pathway engineered in GLBRCY73","role":"note"},{"x":466,"y":100,"label":"Pathway engineered in GLBRCY128","role":"note"},
{"x":502,"y":389,"label":"Cytosol","role":"comp"},{"x":502,"y":401,"label":"Mitochondrion","role":"comp"},
{"x":452,"y":3,"label":"B","role":"letter"}],
"bBox":[{"x":495,"y":394,"x2":702,"y2":594}],
"bCircle":[{"x":607,"y":532}],
"bSeg":[
{"x":562,"y":134,"x2":603,"y2":134,"kind":"native"},{"x":603,"y":134,"x2":603,"y2":141,"kind":"native"},{"x":603,"y":153,"x2":603,"y2":166,"kind":"native"},{"x":624,"y":174,"x2":646,"y2":174,"kind":"native"},
{"x":603,"y":178,"x2":603,"y2":187,"kind":"native"},{"x":557,"y":187,"x2":608,"y2":187,"kind":"native"},{"x":557,"y":187,"x2":557,"y2":202,"kind":"native"},{"x":607,"y":187,"x2":607,"y2":202,"kind":"native"},
{"x":574,"y":210,"x2":591,"y2":210,"kind":"native"},{"x":670,"y":178,"x2":670,"y2":209,"kind":"native"},{"x":654,"y":209,"x2":670,"y2":209,"kind":"native"},{"x":538,"y":213,"x2":514,"y2":213,"kind":"native"},
{"x":607,"y":214,"x2":607,"y2":232,"kind":"native"},{"x":606,"y":246,"x2":606,"y2":263,"kind":"native"},{"x":630,"y":271,"x2":652,"y2":271,"kind":"native"},{"x":701,"y":271,"x2":723,"y2":271,"kind":"native"},
{"x":676,"y":276,"x2":676,"y2":289,"kind":"native"},{"x":676,"y":310,"x2":657,"y2":328,"kind":"native"},{"x":606,"y":276,"x2":606,"y2":407,"kind":"native"},{"x":657,"y":342,"x2":657,"y2":450,"kind":"native"},{"x":627,"y":450,"x2":657,"y2":450,"kind":"native"},
{"x":607,"y":422,"x2":607,"y2":442,"kind":"native"},{"x":607,"y":455,"x2":607,"y2":473,"kind":"native"},
{"x":698,"y":87,"x2":704,"y2":108,"kind":"engineered"},{"x":707,"y":128,"x2":694,"y2":141,"kind":"engineered"},{"x":685,"y":153,"x2":674,"y2":164,"kind":"engineered"},{"x":445,"y":84,"x2":459,"y2":84,"kind":"engineered"},
{"x":445,"y":100,"x2":459,"y2":100,"kind":"engineered128"},{"x":666,"y":95,"x2":666,"y2":159,"kind":"engineered128"}],
"bCurve":[
{"id":1,"o":0,"x":578,"y":127,"kind":"native"},{"id":1,"o":1,"x":581,"y":129,"kind":"native"},{"id":1,"o":2,"x":582,"y":134,"kind":"native"},
{"id":2,"o":0,"x":701,"y":92,"kind":"native"},{"id":2,"o":1,"x":706,"y":98,"kind":"native"},{"id":2,"o":2,"x":716,"y":99,"kind":"native"},
{"id":3,"o":0,"x":705,"y":130,"kind":"native"},{"id":3,"o":1,"x":709,"y":134,"kind":"native"},{"id":3,"o":2,"x":708,"y":141,"kind":"native"},
{"id":4,"o":0,"x":697,"y":156,"kind":"native"},{"id":4,"o":1,"x":688,"y":156,"kind":"native"},{"id":4,"o":2,"x":680,"y":161,"kind":"native"},
{"id":5,"o":0,"x":531,"y":221,"kind":"native"},{"id":5,"o":1,"x":530,"y":215,"kind":"native"},{"id":5,"o":2,"x":525,"y":213,"kind":"native"},
{"id":6,"o":0,"x":599,"y":221,"kind":"native"},{"id":6,"o":1,"x":607,"y":220,"kind":"native"},{"id":6,"o":2,"x":610,"y":226,"kind":"native"},
{"id":7,"o":0,"x":606,"y":252,"kind":"native"},{"id":7,"o":1,"x":609,"y":257,"kind":"native"},{"id":7,"o":2,"x":615,"y":257,"kind":"native"},
{"id":8,"o":0,"x":638,"y":271,"kind":"native"},{"id":8,"o":1,"x":643,"y":269,"kind":"native"},{"id":8,"o":2,"x":645,"y":263,"kind":"native"},
{"id":9,"o":0,"x":704,"y":258,"kind":"native"},{"id":9,"o":1,"x":710,"y":262,"kind":"native"},{"id":9,"o":2,"x":712,"y":271,"kind":"native"},
{"id":10,"o":0,"x":676,"y":280,"kind":"native"},{"id":10,"o":1,"x":679,"y":285,"kind":"native"},{"id":10,"o":2,"x":684,"y":285,"kind":"native"},
{"id":11,"o":0,"x":598,"y":284,"kind":"native"},{"id":11,"o":1,"x":604,"y":284,"kind":"native"},{"id":11,"o":2,"x":606,"y":290,"kind":"native"},
{"id":12,"o":0,"x":590,"y":478,"kind":"native"},{"id":12,"o":1,"x":587,"y":477,"kind":"native"},{"id":12,"o":2,"x":586,"y":474,"kind":"native"},
{"id":13,"o":0,"x":662,"y":524,"kind":"native"},{"id":13,"o":1,"x":665,"y":530,"kind":"native"},{"id":13,"o":2,"x":670,"y":530,"kind":"native"},
{"id":14,"o":0,"x":646,"y":574,"kind":"native"},{"id":14,"o":1,"x":650,"y":575,"kind":"native"},{"id":14,"o":2,"x":651,"y":578,"kind":"native"},
{"id":15,"o":0,"x":553,"y":549,"kind":"native"},{"id":15,"o":1,"x":550,"y":551,"kind":"native"},{"id":15,"o":2,"x":547,"y":551,"kind":"native"},
{"id":16,"o":0,"x":677,"y":74,"kind":"engineered128"},{"id":16,"o":1,"x":668,"y":80,"kind":"engineered128"},{"id":16,"o":2,"x":666,"y":95,"kind":"engineered128"}],
"bHead":[
{"x":603,"y":143,"ang":180,"kind":"native"},{"x":603,"y":168,"ang":180,"kind":"native"},{"x":622,"y":174,"ang":270,"kind":"native"},{"x":648,"y":174,"ang":90,"kind":"native"},{"x":557,"y":204,"ang":180,"kind":"native"},{"x":607,"y":204,"ang":180,"kind":"native"},
{"x":572,"y":210,"ang":270,"kind":"native"},{"x":593,"y":210,"ang":90,"kind":"native"},{"x":652,"y":209,"ang":270,"kind":"native"},{"x":512,"y":213,"ang":270,"kind":"native"},{"x":607,"y":234,"ang":180,"kind":"native"},{"x":606,"y":265,"ang":180,"kind":"native"},
{"x":654,"y":271,"ang":90,"kind":"native"},{"x":699,"y":271,"ang":270,"kind":"native"},{"x":725,"y":271,"ang":90,"kind":"native"},{"x":676,"y":291,"ang":180,"kind":"native"},{"x":655,"y":330,"ang":225,"kind":"native"},{"x":606,"y":409,"ang":180,"kind":"native"},
{"x":625,"y":450,"ang":270,"kind":"native"},{"x":607,"y":444,"ang":180,"kind":"native"},{"x":607,"y":475,"ang":180,"kind":"native"},{"x":552,"y":537,"ang":0,"kind":"native"},
{"x":705,"y":111,"ang":165,"kind":"engineered"},{"x":692,"y":143,"ang":225,"kind":"engineered"},{"x":672,"y":166,"ang":225,"kind":"engineered"},{"x":462,"y":84,"ang":90,"kind":"engineered"},{"x":462,"y":100,"ang":90,"kind":"engineered"},{"x":666,"y":162,"ang":180,"kind":"engineered"},
{"x":718,"y":99,"ang":90,"kind":"cofactor"},{"x":708,"y":143,"ang":180,"kind":"cofactor"},{"x":611,"y":228,"ang":180,"kind":"cofactor"},{"x":617,"y":257,"ang":90,"kind":"cofactor"},{"x":645,"y":261,"ang":0,"kind":"cofactor"},{"x":686,"y":285,"ang":90,"kind":"cofactor"},
{"x":586,"y":472,"ang":0,"kind":"cofactor"},{"x":672,"y":530,"ang":90,"kind":"cofactor"},{"x":651,"y":580,"ang":180,"kind":"cofactor"},{"x":545,"y":551,"ang":270,"kind":"cofactor"}]
},
"hconcat":[
{"hconcat":[
{"width":39,"height":567,
"layer":[
{"data":{"name":"lBar"},"mark":{"type":"rule","strokeWidth":5,"color":"#000"},
"encoding":{"x":{"field":"x","type":"quantitative","scale":{"domain":[5,44],"nice":false,"zero":false},"axis":null},"y":{"field":"y","type":"quantitative","scale":{"domain":[605,38],"nice":false,"zero":false},"axis":null},"y2":{"field":"y2"}}},
{"data":{"name":"lText"},"mark":{"type":"text","angle":270,"fontSize":19,"fontWeight":"bold","align":"center","baseline":"middle","color":"#000"},
"encoding":{"x":{"field":"x","type":"quantitative"},"y":{"field":"y","type":"quantitative"},"text":{"field":"label"}}},
{"data":{"name":"lLetter"},"mark":{"type":"text","fontSize":17,"fontWeight":"bold","align":"left","baseline":"top","color":"#000"},
"encoding":{"x":{"field":"x","type":"quantitative"},"y":{"field":"y","type":"quantitative"},"text":{"field":"label"}}}
]},
{"vconcat":[
{"width":210,"height":55,
"layer":[
{"data":{"name":"glucose"},
"transform":[{"lookup":"s","from":{"data":{"name":"strains"},"key":"s","fields":["strain"]}},{"lookup":"c","from":{"data":{"name":"conds"},"key":"c","fields":["cond"]}},{"calculate":"datum.t+'|'+datum.cond","as":"col"}],
"mark":{"type":"rect","stroke":"#ffffff","strokeOpacity":0.25,"strokeWidth":0.5},
"encoding":{
"x":{"field":"col","type":"nominal","scale":{"domain":["T0|ACSH-Anaerobic","T0|ACSH-Microaerobic","T0|YPDX+HTs","T0|YPDX+FA","T0|YPDX","gap1","T1|ACSH-Anaerobic","T1|ACSH-Microaerobic","T1|YPDX+HTs","T1|YPDX+FA","T1|YPDX","gap2","T2|ACSH-Anaerobic","T2|ACSH-Microaerobic","T2|YPDX+HTs","T2|YPDX+FA","T2|YPDX"]},"axis":null},
"y":{"field":"strain","type":"nominal","scale":{"domain":["Sc_GLBRCY73","Anc-ScxSm_yHDPN1","Evol-ScxSm_yHDPN399","Anc-ScxSk_yHDPN5","Evol-ScxSk_yHDPN379"]},"axis":{"title":"D-glucose","labelColor":{"expr":"datum.value=='Sc_GLBRCY73' ? '#35b5c9' : indexof(datum.value,'ScxSm')>=0 ? '#2bb673' : '#34486f'"}}},
"color":{"field":"v","type":"quantitative","scale":{"domain":[0,100],"range":["#ffff00","#000080"],"interpolate":"rgb"},"legend":{"orient":"none","legendX":229,"legendY":-14,"direction":"vertical","title":"%","values":[0,100],"labelExpr":"''+datum.value"}}}},
{"data":{"name":"hdr"},"mark":{"type":"text","baseline":"bottom","dy":-24,"fontSize":6.5,"color":"#222222"},
"encoding":{"x":{"field":"col","type":"nominal"},"y":{"datum":"Sc_GLBRCY73","type":"nominal"},"text":{"field":"t"}}},
{"data":{"name":"hdr"},"mark":{"type":"text","baseline":"bottom","dy":-15,"fontSize":6.5,"color":"#222222"},
"encoding":{"x":{"field":"col","type":"nominal"},"y":{"datum":"Sc_GLBRCY73","type":"nominal"},"text":{"field":"h"}}}
]},
{"width":210,"height":55,"data":{"name":"xylose"},
"transform":[{"lookup":"s","from":{"data":{"name":"strains"},"key":"s","fields":["strain"]}},{"lookup":"c","from":{"data":{"name":"conds"},"key":"c","fields":["cond"]}},{"calculate":"datum.t+'|'+datum.cond","as":"col"}],
"mark":{"type":"rect","stroke":"#ffffff","strokeOpacity":0.25,"strokeWidth":0.5},
"encoding":{
"x":{"field":"col","type":"nominal","scale":{"domain":["T0|ACSH-Anaerobic","T0|ACSH-Microaerobic","T0|YPDX+HTs","T0|YPDX+FA","T0|YPDX","gap1","T1|ACSH-Anaerobic","T1|ACSH-Microaerobic","T1|YPDX+HTs","T1|YPDX+FA","T1|YPDX","gap2","T2|ACSH-Anaerobic","T2|ACSH-Microaerobic","T2|YPDX+HTs","T2|YPDX+FA","T2|YPDX"]},"axis":null},
"y":{"field":"strain","type":"nominal","scale":{"domain":["Sc_GLBRCY73","Anc-ScxSm_yHDPN1","Evol-ScxSm_yHDPN399","Anc-ScxSk_yHDPN5","Evol-ScxSk_yHDPN379"]},"axis":{"title":"D-xylose","labelColor":{"expr":"datum.value=='Sc_GLBRCY73' ? '#35b5c9' : indexof(datum.value,'ScxSm')>=0 ? '#2bb673' : '#34486f'"}}},
"color":{"field":"v","type":"quantitative","scale":{"domain":[0,100],"range":["#ffff00","#000080"],"interpolate":"rgb"},"legend":{"orient":"none","legendX":229,"legendY":0,"direction":"vertical","title":null,"values":[0,100],"labelExpr":"''+datum.value"}}}},
{"width":210,"height":9,"data":{"values":[]},"mark":{"type":"rule"},"encoding":{}},
{"width":210,"height":55,"data":{"name":"xylitol"},
"transform":[{"lookup":"s","from":{"data":{"name":"strains"},"key":"s","fields":["strain"]}},{"lookup":"c","from":{"data":{"name":"conds"},"key":"c","fields":["cond"]}},{"calculate":"datum.t+'|'+datum.cond","as":"col"}],
"mark":{"type":"rect","stroke":"#ffffff","strokeOpacity":0.25,"strokeWidth":0.5},
"encoding":{
"x":{"field":"col","type":"nominal","scale":{"domain":["T0|ACSH-Anaerobic","T0|ACSH-Microaerobic","T0|YPDX+HTs","T0|YPDX+FA","T0|YPDX","gap1","T1|ACSH-Anaerobic","T1|ACSH-Microaerobic","T1|YPDX+HTs","T1|YPDX+FA","T1|YPDX","gap2","T2|ACSH-Anaerobic","T2|ACSH-Microaerobic","T2|YPDX+HTs","T2|YPDX+FA","T2|YPDX"]},"axis":null},
"y":{"field":"strain","type":"nominal","scale":{"domain":["Sc_GLBRCY73","Anc-ScxSm_yHDPN1","Evol-ScxSm_yHDPN399","Anc-ScxSk_yHDPN5","Evol-ScxSk_yHDPN379"]},"axis":{"title":"Xylitol","labelColor":{"expr":"datum.value=='Sc_GLBRCY73' ? '#35b5c9' : indexof(datum.value,'ScxSm')>=0 ? '#2bb673' : '#34486f'"}}},
"color":{"field":"v","type":"quantitative","scale":{"domain":[0,2.7],"range":["#ffff00","#000080"],"interpolate":"rgb"},"legend":{"orient":"none","legendX":229,"legendY":-11,"direction":"vertical","title":"g/L","values":[0,2.7],"labelExpr":"''+datum.value"}}}},
{"width":210,"height":55,"data":{"name":"glycerol"},
"transform":[{"lookup":"s","from":{"data":{"name":"strains"},"key":"s","fields":["strain"]}},{"lookup":"c","from":{"data":{"name":"conds"},"key":"c","fields":["cond"]}},{"calculate":"datum.t+'|'+datum.cond","as":"col"}],
"mark":{"type":"rect","stroke":"#ffffff","strokeOpacity":0.25,"strokeWidth":0.5},
"encoding":{
"x":{"field":"col","type":"nominal","scale":{"domain":["T0|ACSH-Anaerobic","T0|ACSH-Microaerobic","T0|YPDX+HTs","T0|YPDX+FA","T0|YPDX","gap1","T1|ACSH-Anaerobic","T1|ACSH-Microaerobic","T1|YPDX+HTs","T1|YPDX+FA","T1|YPDX","gap2","T2|ACSH-Anaerobic","T2|ACSH-Microaerobic","T2|YPDX+HTs","T2|YPDX+FA","T2|YPDX"]},"axis":null},
"y":{"field":"strain","type":"nominal","scale":{"domain":["Sc_GLBRCY73","Anc-ScxSm_yHDPN1","Evol-ScxSm_yHDPN399","Anc-ScxSk_yHDPN5","Evol-ScxSk_yHDPN379"]},"axis":{"title":"Glycerol","labelColor":{"expr":"datum.value=='Sc_GLBRCY73' ? '#35b5c9' : indexof(datum.value,'ScxSm')>=0 ? '#2bb673' : '#34486f'"}}},
"color":{"field":"v","type":"quantitative","scale":{"domain":[0,5.6],"range":["#ffff00","#000080"],"interpolate":"rgb"},"legend":{"orient":"none","legendX":229,"legendY":0,"direction":"vertical","title":null,"values":[0,5.6],"labelExpr":"''+datum.value"}}}},
{"width":210,"height":55,"data":{"name":"acetate"},
"transform":[{"lookup":"s","from":{"data":{"name":"strains"},"key":"s","fields":["strain"]}},{"lookup":"c","from":{"data":{"name":"conds"},"key":"c","fields":["cond"]}},{"calculate":"datum.t+'|'+datum.cond","as":"col"}],
"mark":{"type":"rect","stroke":"#ffffff","strokeOpacity":0.25,"strokeWidth":0.5},
"encoding":{
"x":{"field":"col","type":"nominal","scale":{"domain":["T0|ACSH-Anaerobic","T0|ACSH-Microaerobic","T0|YPDX+HTs","T0|YPDX+FA","T0|YPDX","gap1","T1|ACSH-Anaerobic","T1|ACSH-Microaerobic","T1|YPDX+HTs","T1|YPDX+FA","T1|YPDX","gap2","T2|ACSH-Anaerobic","T2|ACSH-Microaerobic","T2|YPDX+HTs","T2|YPDX+FA","T2|YPDX"]},"axis":null},
"y":{"field":"strain","type":"nominal","scale":{"domain":["Sc_GLBRCY73","Anc-ScxSm_yHDPN1","Evol-ScxSm_yHDPN399","Anc-ScxSk_yHDPN5","Evol-ScxSk_yHDPN379"]},"axis":{"title":"Acetate","labelColor":{"expr":"datum.value=='Sc_GLBRCY73' ? '#35b5c9' : indexof(datum.value,'ScxSm')>=0 ? '#2bb673' : '#34486f'"}}},
"color":{"field":"v","type":"quantitative","scale":{"domain":[0,2.9],"range":["#ffff00","#000080"],"interpolate":"rgb"},"legend":{"orient":"none","legendX":229,"legendY":0,"direction":"vertical","title":null,"values":[0,2.9],"labelExpr":"''+datum.value"}}}},
{"width":210,"height":55,"data":{"name":"ethanol"},
"transform":[{"lookup":"s","from":{"data":{"name":"strains"},"key":"s","fields":["strain"]}},{"lookup":"c","from":{"data":{"name":"conds"},"key":"c","fields":["cond"]}},{"calculate":"datum.t+'|'+datum.cond","as":"col"}],
"mark":{"type":"rect","stroke":"#ffffff","strokeOpacity":0.25,"strokeWidth":0.5},
"encoding":{
"x":{"field":"col","type":"nominal","scale":{"domain":["T0|ACSH-Anaerobic","T0|ACSH-Microaerobic","T0|YPDX+HTs","T0|YPDX+FA","T0|YPDX","gap1","T1|ACSH-Anaerobic","T1|ACSH-Microaerobic","T1|YPDX+HTs","T1|YPDX+FA","T1|YPDX","gap2","T2|ACSH-Anaerobic","T2|ACSH-Microaerobic","T2|YPDX+HTs","T2|YPDX+FA","T2|YPDX"]},"axis":null},
"y":{"field":"strain","type":"nominal","scale":{"domain":["Sc_GLBRCY73","Anc-ScxSm_yHDPN1","Evol-ScxSm_yHDPN399","Anc-ScxSk_yHDPN5","Evol-ScxSk_yHDPN379"]},"axis":{"title":"Ethanol","labelColor":{"expr":"datum.value=='Sc_GLBRCY73' ? '#35b5c9' : indexof(datum.value,'ScxSm')>=0 ? '#2bb673' : '#34486f'"}}},
"color":{"field":"v","type":"quantitative","scale":{"domain":[0,33],"range":["#ffff00","#000080"],"interpolate":"rgb"},"legend":{"orient":"none","legendX":229,"legendY":0,"direction":"vertical","title":null,"values":[0,33],"labelExpr":"''+datum.value"}}}},
{"width":210,"height":55,"data":{"name":"succinate"},
"transform":[{"lookup":"s","from":{"data":{"name":"strains"},"key":"s","fields":["strain"]}},{"lookup":"c","from":{"data":{"name":"conds"},"key":"c","fields":["cond"]}},{"calculate":"datum.t+'|'+datum.cond","as":"col"}],
"mark":{"type":"rect","stroke":"#ffffff","strokeOpacity":0.25,"strokeWidth":0.5},
"encoding":{
"x":{"field":"col","type":"nominal","scale":{"domain":["T0|ACSH-Anaerobic","T0|ACSH-Microaerobic","T0|YPDX+HTs","T0|YPDX+FA","T0|YPDX","gap1","T1|ACSH-Anaerobic","T1|ACSH-Microaerobic","T1|YPDX+HTs","T1|YPDX+FA","T1|YPDX","gap2","T2|ACSH-Anaerobic","T2|ACSH-Microaerobic","T2|YPDX+HTs","T2|YPDX+FA","T2|YPDX"]},"axis":null},
"y":{"field":"strain","type":"nominal","scale":{"domain":["Sc_GLBRCY73","Anc-ScxSm_yHDPN1","Evol-ScxSm_yHDPN399","Anc-ScxSk_yHDPN5","Evol-ScxSk_yHDPN379"]},"axis":{"title":"Succinate","labelColor":{"expr":"datum.value=='Sc_GLBRCY73' ? '#35b5c9' : indexof(datum.value,'ScxSm')>=0 ? '#2bb673' : '#34486f'"}}},
"color":{"field":"v","type":"quantitative","scale":{"domain":[0,0.7],"range":["#ffff00","#000080"],"interpolate":"rgb"},"legend":{"orient":"none","legendX":229,"legendY":0,"direction":"vertical","title":null,"values":[0,0.7],"labelExpr":"''+datum.value"}}}},
{"width":210,"height":55,"data":{"name":"biomass"},
"transform":[{"lookup":"s","from":{"data":{"name":"strains"},"key":"s","fields":["strain"]}},{"lookup":"c","from":{"data":{"name":"conds"},"key":"c","fields":["cond"]}},{"calculate":"datum.t+'|'+datum.cond","as":"col"}],
"mark":{"type":"rect","stroke":"#ffffff","strokeOpacity":0.25,"strokeWidth":0.5},
"encoding":{
"x":{"field":"col","type":"nominal","scale":{"domain":["T0|ACSH-Anaerobic","T0|ACSH-Microaerobic","T0|YPDX+HTs","T0|YPDX+FA","T0|YPDX","gap1","T1|ACSH-Anaerobic","T1|ACSH-Microaerobic","T1|YPDX+HTs","T1|YPDX+FA","T1|YPDX","gap2","T2|ACSH-Anaerobic","T2|ACSH-Microaerobic","T2|YPDX+HTs","T2|YPDX+FA","T2|YPDX"]},
"axis":{"orient":"bottom","labelAngle":-45,"labelExpr":"indexof(datum.value,'|')>0 ? split(datum.value,'|')[1] : ''","labelFontSize":6.5,"labelPadding":3,"labelColor":"#222","ticks":false,"tickSize":0,"domain":false,"labelOverlap":false,"title":null}},
"y":{"field":"strain","type":"nominal","scale":{"domain":["Sc_GLBRCY73","Anc-ScxSm_yHDPN1","Evol-ScxSm_yHDPN399","Anc-ScxSk_yHDPN5","Evol-ScxSk_yHDPN379"]},"axis":{"title":"Biomass","labelColor":{"expr":"datum.value=='Sc_GLBRCY73' ? '#35b5c9' : indexof(datum.value,'ScxSm')>=0 ? '#2bb673' : '#34486f'"}}},
"color":{"field":"v","type":"quantitative","scale":{"domain":[0,22],"range":["#ffff00","#000080"],"interpolate":"rgb"},"legend":{"orient":"none","legendX":229,"legendY":-7,"direction":"vertical","title":"OD₆₀₀","values":[0,22],"labelExpr":"''+datum.value"}}}}
],"spacing":8.6,"bounds":"flush","resolve":{"scale":{"color":"independent"}}}
],"spacing":5},
{"width":342,"height":567,
"layer":[
{"data":{"name":"bBox"},"mark":{"type":"rect","fill":"#f4f4f4","stroke":"#7b4fa8","strokeDash":[4,3],"strokeWidth":1.2},
"encoding":{"x":{"field":"x","type":"quantitative","scale":{"domain":[440,782],"nice":false,"zero":false},"axis":null},"y":{"field":"y","type":"quantitative","scale":{"domain":[605,38],"nice":false,"zero":false},"axis":null},"x2":{"field":"x2"},"y2":{"field":"y2"}}},
{"data":{"name":"bCircle"},"mark":{"type":"arc","theta":4.97,"theta2":10.905,"radius":56,"radius2":54.2,"color":"#111"},
"encoding":{"x":{"field":"x","type":"quantitative"},"y":{"field":"y","type":"quantitative"}}},
{"data":{"name":"bSeg"},"mark":{"type":"rule","strokeWidth":1.8},
"encoding":{"x":{"field":"x","type":"quantitative"},"y":{"field":"y","type":"quantitative"},"x2":{"field":"x2"},"y2":{"field":"y2"},
"color":{"field":"kind","type":"nominal","scale":{"domain":["native","engineered","engineered128","cofactor"],"range":["#111111","#4aa3c8","#4aa3c8","#111111"]},"legend":null},
"strokeDash":{"field":"kind","type":"nominal","scale":{"domain":["native","engineered","engineered128"],"range":[[1,0],[1,0],[5,3]]},"legend":null}}},
{"data":{"name":"bCurve"},"mark":{"type":"line","strokeWidth":1.3,"interpolate":"basis"},
"encoding":{"x":{"field":"x","type":"quantitative"},"y":{"field":"y","type":"quantitative"},"detail":{"field":"id"},"order":{"field":"o"},
"color":{"field":"kind","type":"nominal","scale":{"domain":["native","engineered","engineered128","cofactor"],"range":["#111111","#4aa3c8","#4aa3c8","#111111"]},"legend":null},
"strokeDash":{"field":"kind","type":"nominal","scale":{"domain":["native","engineered","engineered128"],"range":[[1,0],[1,0],[5,3]]},"legend":null}}},
{"data":{"name":"bHead"},"mark":{"type":"point","shape":"triangle-up","filled":true,"opacity":1},
"encoding":{"x":{"field":"x","type":"quantitative"},"y":{"field":"y","type":"quantitative"},"angle":{"field":"ang","type":"quantitative","scale":null},
"color":{"field":"kind","type":"nominal","scale":{"domain":["native","engineered","engineered128","cofactor"],"range":["#111111","#4aa3c8","#4aa3c8","#111111"]},"legend":null},
"size":{"field":"kind","type":"nominal","scale":{"domain":["native","engineered","cofactor"],"range":[30,30,12]},"legend":null}}},
{"data":{"name":"bText"},"transform":[{"filter":"datum.role=='big'"}],"mark":{"type":"text","fontSize":16,"fontWeight":"bold","align":"center","baseline":"middle","color":"#000"},
"encoding":{"x":{"field":"x","type":"quantitative"},"y":{"field":"y","type":"quantitative"},"text":{"field":"label"}}},
{"data":{"name":"bText"},"transform":[{"filter":"datum.role=='small'"}],"mark":{"type":"text","fontSize":5.5,"align":"center","baseline":"middle","color":"#333333"},
"encoding":{"x":{"field":"x","type":"quantitative"},"y":{"field":"y","type":"quantitative"},"text":{"field":"label"}}},
{"data":{"name":"bText"},"transform":[{"filter":"datum.role=='blue'"}],"mark":{"type":"text","fontSize":5.5,"align":"center","baseline":"middle","color":"#3b3b8f"},
"encoding":{"x":{"field":"x","type":"quantitative"},"y":{"field":"y","type":"quantitative"},"text":{"field":"label"}}},
{"data":{"name":"bText"},"transform":[{"filter":"datum.role=='note'"}],"mark":{"type":"text","fontSize":5.5,"align":"left","baseline":"middle","color":"#333333"},
"encoding":{"x":{"field":"x","type":"quantitative"},"y":{"field":"y","type":"quantitative"},"text":{"field":"label"}}},
{"data":{"name":"bText"},"transform":[{"filter":"datum.role=='comp'"}],"mark":{"type":"text","fontSize":8,"align":"left","baseline":"middle","color":"#333333"},
"encoding":{"x":{"field":"x","type":"quantitative"},"y":{"field":"y","type":"quantitative"},"text":{"field":"label"}}},
{"data":{"name":"bText"},"transform":[{"filter":"datum.role=='letter'"}],"mark":{"type":"text","fontSize":17,"fontWeight":"bold","align":"left","baseline":"top","color":"#000"},
"encoding":{"x":{"field":"x","type":"quantitative"},"y":{"field":"y","type":"quantitative"},"text":{"field":"label"}}}
]}
],"spacing":32}
